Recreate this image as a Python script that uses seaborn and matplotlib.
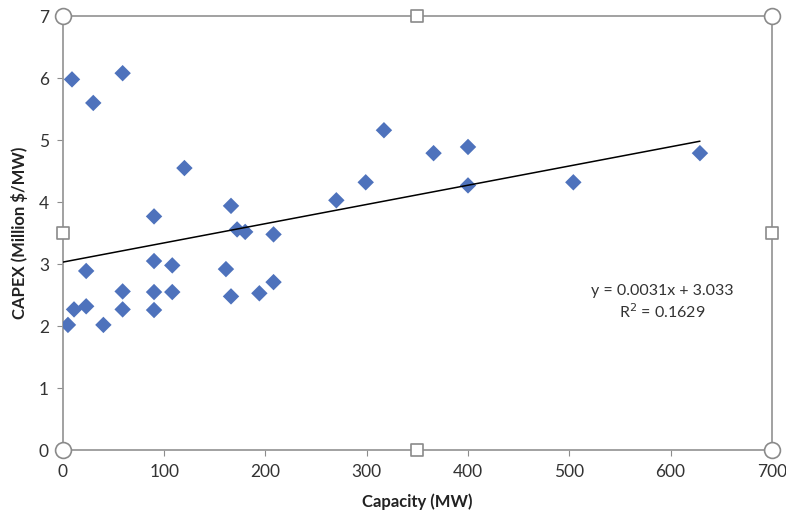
import matplotlib
matplotlib.use("Agg")
import matplotlib.pyplot as plt
import seaborn as sns
import numpy as np
import pandas as pd

sns.set_theme(style="white")
plt.rcParams["font.family"] = ["Lato", "DejaVu Sans"]

# Plant capacity (MW) and capital cost (million $ per MW)
capacity = [5, 9, 11, 23, 23, 30, 40, 59, 59, 59, 90, 90, 90, 90, 108, 108,
            120, 161, 166, 166, 172, 180, 194, 208, 208, 270, 299, 317, 366,
            400, 400, 504, 629]
capex = [2.02, 5.98, 2.27, 2.89, 2.32, 5.60, 2.02, 6.08, 2.56, 2.27, 3.77,
         3.05, 2.55, 2.26, 2.98, 2.55, 4.55, 2.92, 3.94, 2.48, 3.56, 3.52,
         2.53, 3.48, 2.71, 4.03, 4.32, 5.16, 4.79, 4.89, 4.27, 4.32, 4.79]

# Linear trend reported on the chart
slope = 0.0031
intercept = 3.033
r_squared = 0.1629

x_ticks = [0, 100, 200, 300, 400, 500, 600, 700]
y_ticks = [0, 1, 2, 3, 4, 5, 6, 7]

df = pd.DataFrame({"Capacity": capacity, "CAPEX": capex})
trend_x = [0, max(capacity)]
trend = pd.DataFrame({"Capacity": trend_x,
                      "CAPEX": [slope * v + intercept for v in trend_x]})

fig = plt.figure(figsize=(7.86, 5.21), dpi=100)
ax = fig.add_axes([0.080, 0.136, 0.902, 0.833])

sns.scatterplot(data=df, x="Capacity", y="CAPEX", ax=ax, marker="D",
                s=70, color="#4E72BC", edgecolor="none", zorder=3)
sns.lineplot(data=trend, x="Capacity", y="CAPEX", ax=ax, color="black",
             linewidth=1.1, zorder=4)

ax.set_xlim(0, 700)
ax.set_ylim(0, 7)
ax.set_xticks(x_ticks)
ax.set_yticks(y_ticks)
ax.tick_params(axis="both", which="both", direction="out", length=4,
               width=0.8, color="#8c8c8c", labelsize=12.5, labelcolor="#333333",
               pad=6, bottom=True, left=True)

frame_color = "#9a9a9a"
for side in ["left", "bottom", "top", "right"]:
    ax.spines[side].set_visible(True)
    ax.spines[side].set_color(frame_color)
    ax.spines[side].set_linewidth(1.3)

ax.set_xlabel("Capacity (MW)", fontsize=12, fontweight="bold",
              color="#222222", labelpad=10)
ax.set_ylabel("CAPEX (Million $/MW)", fontsize=12, fontweight="bold",
              color="#222222", labelpad=8)

# Selection handles around the plot frame
corner_x = [0, 700, 0, 700]
corner_y = [0, 0, 7, 7]
ax.scatter(corner_x, corner_y, s=130, marker="o", facecolor="white",
           edgecolor="#8a8a8a", linewidth=1.2, clip_on=False, zorder=6)
mid_x = [350, 350, 0, 700]
mid_y = [0, 7, 3.5, 3.5]
ax.scatter(mid_x, mid_y, s=70, marker="s", facecolor="white",
           edgecolor="#8a8a8a", linewidth=1.2, clip_on=False, zorder=6)

ax.text(592, 2.38, f"y = {slope}x + {intercept}\nR$^2$ = {r_squared}",
        ha="center", va="center", fontsize=11.5, color="#333333",
        linespacing=1.25)

fig.savefig("out.png", dpi=100, facecolor="white")
